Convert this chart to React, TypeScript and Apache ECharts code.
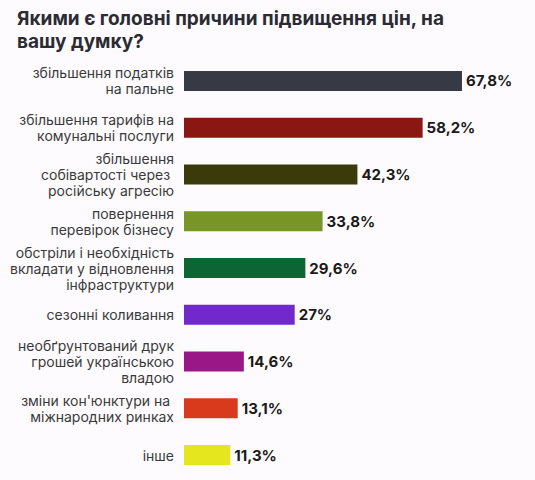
import React, { useEffect, useRef } from "react";
import * as echarts from "echarts";

const categories = [
  "збільшення податків\nна пальне",
  "збільшення тарифів на\nкомунальні послуги",
  "збільшення\nсобівартості через \nросійську агресію",
  "повернення\nперевірок бізнесу",
  "обстріли і необхідність\nвкладати у відновлення\nінфраструктури",
  "сезонні коливання",
  "необґрунтований друк\nгрошей українською\nвладою",
  "зміни кон'юнктури на \nміжнародних ринках",
  "інше",
];
const values = [67.8, 58.2, 42.3, 33.8, 29.6, 27, 14.6, 13.1, 11.3];
const colors = [
  "#373a45",
  "#8a1712",
  "#3b3a0a",
  "#789628",
  "#0b6634",
  "#7129cc",
  "#9a1787",
  "#d93a1c",
  "#e6e61e",
];

const style: React.CSSProperties = {
  position: "fixed",
  left: 0,
  top: 0,
  width: "535px",
  height: "480px",
};

const App: React.FC = () => {
  const chartRef = useRef<HTMLDivElement>(null);

  useEffect(() => {
    if (!chartRef.current) return;
    const myChart = echarts.init(chartRef.current, null, { renderer: "svg" });

    const option = {
      animation: false,
      backgroundColor: "#fdfbfd",
      title: {
        text: "Якими є головні причини підвищення цін, на\nвашу думку?",
        left: 12,
        top: 2,
        textStyle: {
          fontFamily: "Inter",
          fontWeight: "bold",
          fontSize: 19,
          lineHeight: 23,
          color: "#2c2b33",
        },
      },
      grid: {
        left: 184,
        right: 23,
        top: 57.6,
        bottom: 1.6,
        containLabel: false,
      },
      xAxis: {
        type: "value",
        min: 0,
        max: 80,
        show: false,
      },
      yAxis: {
        type: "category",
        inverse: true,
        data: categories,
        axisLine: { show: false },
        axisTick: { show: false },
        axisLabel: {
          margin: 10,
          fontFamily: "Inter",
          fontSize: 14,
          lineHeight: 16,
          color: "#3a3a3a",
          align: "right",
        },
      },
      series: [
        {
          type: "bar",
          barWidth: 20,
          data: values.map((v, i) => ({ value: v, itemStyle: { color: colors[i] } })),
          label: {
            show: true,
            position: "right",
            distance: 4,
            fontFamily: "Inter",
            fontWeight: "bold",
            fontSize: 15,
            color: "#1a1a1a",
            formatter: (p: any) => String(p.value).replace(".", ",") + "%",
          },
        },
      ],
    };

    myChart.setOption(option);
    return () => {
      myChart.dispose();
    };
  }, []);

  return <div ref={chartRef} style={style} />;
};

export default App;
